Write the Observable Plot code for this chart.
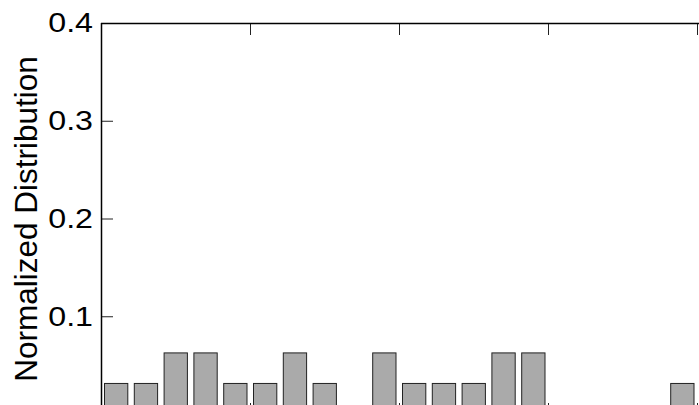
<!DOCTYPE html>
<html>
<head>
<meta charset="utf-8">
<script src="https://cdn.jsdelivr.net/npm/d3@7"></script>
<script src="https://cdn.jsdelivr.net/npm/@observablehq/plot@0.6"></script>
<style>
  html, body { margin: 0; padding: 0; background: #fff; overflow: hidden; }
  #chart { width: 699px; height: 405px; }
</style>
</head>
<body>
<div id="chart"></div>
<script>
// ---- data ----
const binStart = [0, 1, 2, 3, 4, 5, 6, 7, 8, 9, 10, 11, 12, 13, 14, 15, 16, 17, 18, 19];
const fraction = [0.03125, 0.03125, 0.0625, 0.0625, 0.03125, 0.03125, 0.0625, 0.03125, 0, 0.0625,
                  0.03125, 0.03125, 0.03125, 0.0625, 0.0625, 0, 0, 0, 0, 0.03125];
const yTicks = [0.1, 0.2, 0.3, 0.4];
const xTicks = [5, 10, 15, 20];
const yLabel = "Normalized Distribution";

const bars = binStart.map((b, i) => ({x1: b, x2: b + 1, v: fraction[i]})).filter(d => d.v > 0);

const font = "'Liberation Sans', Arial, Helvetica, sans-serif";

const plot = Plot.plot({
  width: 699,
  height: 405,
  marginLeft: 101,
  marginRight: 0,
  marginTop: 23,
  marginBottom: -9,
  style: {fontFamily: font, background: "#fff", color: "#000"},
  x: {domain: [0, 20.067], axis: null},
  y: {domain: [0, 0.4], axis: null},
  marks: [
    Plot.rectY(bars, {x1: "x1", x2: "x2", y: "v", insetLeft: 3.5, insetRight: 3,
      fill: "#aaaaaa", stroke: "#222", strokeWidth: 1}),
    // inward tick marks
    Plot.axisY({ticks: yTicks, tickSize: -12, tickFormat: () => "", label: null, stroke: "#222"}),
    Plot.axisX({anchor: "top", ticks: xTicks, tickSize: -11, tickFormat: () => "", label: null, stroke: "#222"}),
    Plot.axisX({anchor: "bottom", ticks: xTicks, tickSize: -11, tickFormat: () => "", label: null, stroke: "#222"}),
    // tick labels
    Plot.axisY({ticks: yTicks, tickSize: 0, tickPadding: 8.5, fontSize: 28, label: null,
      tickFormat: d => d3.format(".1f")(d), fill: "#000"}),
    // frame lines (top and left)
    Plot.ruleY([0.4], {stroke: "#000", strokeWidth: 1.5}),
    Plot.ruleX([0], {stroke: "#000", strokeWidth: 1.5}),
    // y label
    Plot.text([yLabel], {text: d => d, frameAnchor: "left", rotate: -90, dx: -64.3,
      lineAnchor: "bottom", textAnchor: "middle", fontSize: 31.5, fill: "#000"})
  ]
});

// tick labels in the reference are horizontally wide
d3.select(plot).selectAll('g[aria-label="y-axis tick label"] text').each(function() {
  const t = this.getAttribute("transform") || "";
  this.setAttribute("transform", t + " scale(1.15,1)");
});

document.getElementById("chart").appendChild(plot);
</script>
</body>
</html>
